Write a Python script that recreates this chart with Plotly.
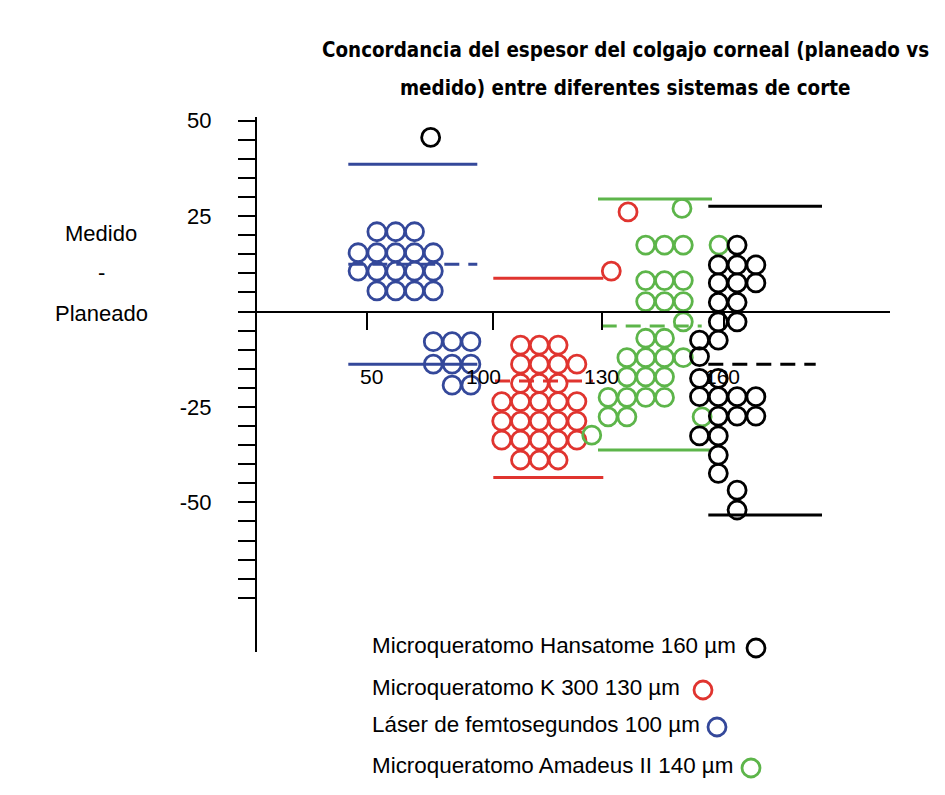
import plotly.graph_objects as go

# Medido - Planeado (µm) por sistema de corte.
# *_col = columna del círculo dentro del grupo (0 = columna central)
hansatome_y = [45.6, 17.4, 12.2, 12.2, 12.2, 7.5, 7.5, 7.5, 2.4, 2.4, -2.7, -2.7,
               -7.5, -7.5, -11.8, -17.5, -17.5, -22.3, -22.3, -22.3, -22.3,
               -27.4, -27.4, -27.4, -32.6, -32.6, -37.6, -42.4, -46.8, -52.0]
hansatome_col = [-15.3, 1, 0, 1, 2, 0, 1, 2, 0, 1, 0, 1,
                 -1, 0, -1, -1, 0, -1, 0, 1, 2,
                 0, 1, 2, -1, 0, 0, 0, 1, 1]

k300_y = [26.1, 10.6, -8.8, -8.8, -8.8, -13.8, -13.8, -13.8, -13.8,
          -18.8, -18.8, -18.8, -23.6, -23.6, -23.6, -23.6, -23.6,
          -28.7, -28.7, -28.7, -28.7, -28.7, -33.7, -33.7, -33.7, -33.7, -33.7,
          -38.9, -38.9, -38.9]
k300_col = [4.72, 3.83, -1, 0, 1, -1, 0, 1, 2,
            -1, 0, 1, -2, -1, 0, 1, 2,
            -2, -1, 0, 1, 2, -2, -1, 0, 1, 2,
            -1, 0, 1]

laser_y = [20.9, 20.9, 20.9, 15.4, 15.4, 15.4, 15.4, 15.4,
           10.6, 10.6, 10.6, 10.6, 10.6, 5.4, 5.4, 5.4, 5.4,
           -7.9, -7.9, -7.9, -13.8, -13.8, -13.8, -19.3, -19.3]
laser_col = [-1, 0, 1, -2, -1, 0, 1, 2,
             -2, -1, 0, 1, 2, -1, 0, 1, 2,
             2, 3, 4, 2, 3, 4, 3, 4]

amadeus_y = [27.0, 17.4, 17.4, 17.4, 17.4, 8.1, 8.1, 8.1, 2.6, 2.6, 2.6, -2.7,
             -7.0, -7.0, -12.1, -12.1, -12.1, -12.1, -17.1, -17.1, -17.1,
             -22.5, -22.5, -22.5, -22.5, -27.6, -27.6, -27.6, -32.4]
amadeus_col = [1.93, 0, 1, 2, 3.9, 0, 1, 2, 0, 1, 2, 2,
               0, 1, -1, 0, 1, 2, -1, 0, 1,
               -2, -1, 0, 1, -2, -1, 3, -2.87]

# límites de concordancia: superior, media, inferior
hansatome_lim = [27.6, -13.8, -53.3]
k300_lim = [8.7, -18.2, -43.5]
laser_lim = [38.6, 12.4, -13.8]
amadeus_lim = [29.5, -3.8, -36.3]

legend_text = ["Microqueratomo Hansatome 160 \u00b5m",
               "Microqueratomo K 300 130 \u00b5m",
               "L\u00e1ser de femtosegundos 100 \u00b5m",
               "Microqueratomo Amadeus II 140 \u00b5m"]
x_tick_labels = ["50", "100", "130", "160"]
y_tick_labels = {50: "50", 25: "25", -25: "-25", -50: "-50"}

title_lines = ["Concordancia del espesor del colgajo corneal (planeado vs",
               "medido) entre diferentes sistemas de corte"]
y_title = ["Medido", "-", "Planeado"]

# ---- layout (pixels of the 945x795 page; the page body adds an 8px margin) ----
OFF = 8
W, H = 945 - OFF, 795 - OFF
L, R, T, B = 257 - OFF, 55, 117 - OFF, 143
PW, PH = W - L - R, H - T - B
Y_MIN, Y_MAX = -89.2, 50.96
STEP = 18.8  # column spacing of the dots, in x units (= px)

def xp(px):
    return (px - OFF - L) / PW

def yp(py):
    return (H - B - (py - OFF)) / PH

groups = [
    # y, col, limits, colour, center, solid span, dashed span
    (laser_y, laser_col, laser_lim, "#34489a", 138.7, (91.3, 220.3), (91.3, 220.3)),
    (k300_y, k300_col, k300_lim, "#e0342f", 282.3, (236.3, 346.3), (238, 336)),
    (amadeus_y, amadeus_col, amadeus_lim, "#5db54a", 388.7, (341, 455), (344.7, 444.7)),
    (hansatome_y, hansatome_col, hansatome_lim, "#000000", 461.3, (451.3, 565), (451.3, 558.7)),
]

fig = go.Figure()

for ys, cols, lim, color, cx, span, dspan in groups:
    for i, v in enumerate(lim):
        s = dspan if i == 1 else span
        fig.add_trace(go.Scatter(
            x=list(s), y=[v, v], mode="lines", hoverinfo="skip",
            line=dict(color=color, width=3, dash="15px,9px" if i == 1 else "solid"),
        ))

for ys, cols, lim, color, cx, span, dspan in groups:
    fig.add_trace(go.Scatter(
        x=[cx + c * STEP for c in cols], y=ys, mode="markers",
        marker=dict(symbol="circle-open", size=18, color=color, line=dict(width=2.8)),
    ))

ytv = [v for v in range(-75, 51, 5)]
fig.update_yaxes(
    range=[Y_MIN, Y_MAX], showline=True, linecolor="black", linewidth=2,
    ticks="outside", ticklen=17, tickwidth=2, tickcolor="black",
    tickvals=ytv, ticktext=[y_tick_labels.get(v, "") for v in ytv],
    tickfont=dict(family="Liberation Sans, Arial", size=22, color="black"),
    ticklabelstandoff=22, showgrid=False, zeroline=False,
)

x_ticks = [109.7, 236.3, 344.7, 467]
x_label_pos = [114.7, 226, 344, 465.5]
fig.update_xaxes(
    range=[0, PW], anchor="free", position=(0 - Y_MIN) / (Y_MAX - Y_MIN),
    showline=True, linecolor="black", linewidth=2,
    ticks="outside", ticklen=17, tickwidth=2, tickcolor="black",
    tickvals=x_ticks, showticklabels=False, showgrid=False, zeroline=False,
)

ann = []
for xv, lab in zip(x_label_pos, x_tick_labels):
    ann.append(dict(x=xv, y=-17, xref="x", yref="y", text=lab, showarrow=False,
                    xanchor="center", yanchor="middle", font=dict(size=21)))

for py, line in zip([50, 88], title_lines):
    ann.append(dict(x=xp(625), y=yp(py), xref="paper", yref="paper", text=line,
                    xanchor="center", yanchor="middle", showarrow=False,
                    font=dict(family="DejaVu Sans Condensed", size=20.4, weight="bold")))

for py, line in zip([233, 272, 313], y_title):
    ann.append(dict(x=xp(101), y=yp(py), xref="paper", yref="paper", text=line,
                    xanchor="center", yanchor="middle", showarrow=False,
                    font=dict(size=22)))

legend_y = [645, 687, 724, 765]
legend_dot_x = [756, 703, 717, 751]
legend_col = ["#000000", "#e0342f", "#34489a", "#5db54a"]
shapes = []
for py, dx, txt, col in zip(legend_y, legend_dot_x, legend_text, legend_col):
    ann.append(dict(x=xp(370), y=yp(py), xref="paper", yref="paper", text=txt,
                    xanchor="left", yanchor="middle", showarrow=False,
                    font=dict(size=22.4)))
    shapes.append(dict(type="circle", xref="paper", yref="paper",
                       xsizemode="pixel", ysizemode="pixel",
                       xanchor=xp(dx), yanchor=yp(py + 3),
                       x0=-9, x1=9, y0=-9, y1=9,
                       line=dict(color=col, width=2.8)))

fig.update_layout(
    width=W, height=H, showlegend=False,
    margin=dict(l=L, r=R, t=T, b=B, autoexpand=False),
    plot_bgcolor="white", paper_bgcolor="white",
    font=dict(family="Liberation Sans, Arial", color="black"),
    annotations=ann, shapes=shapes,
)

fig.write_html("out.html")
